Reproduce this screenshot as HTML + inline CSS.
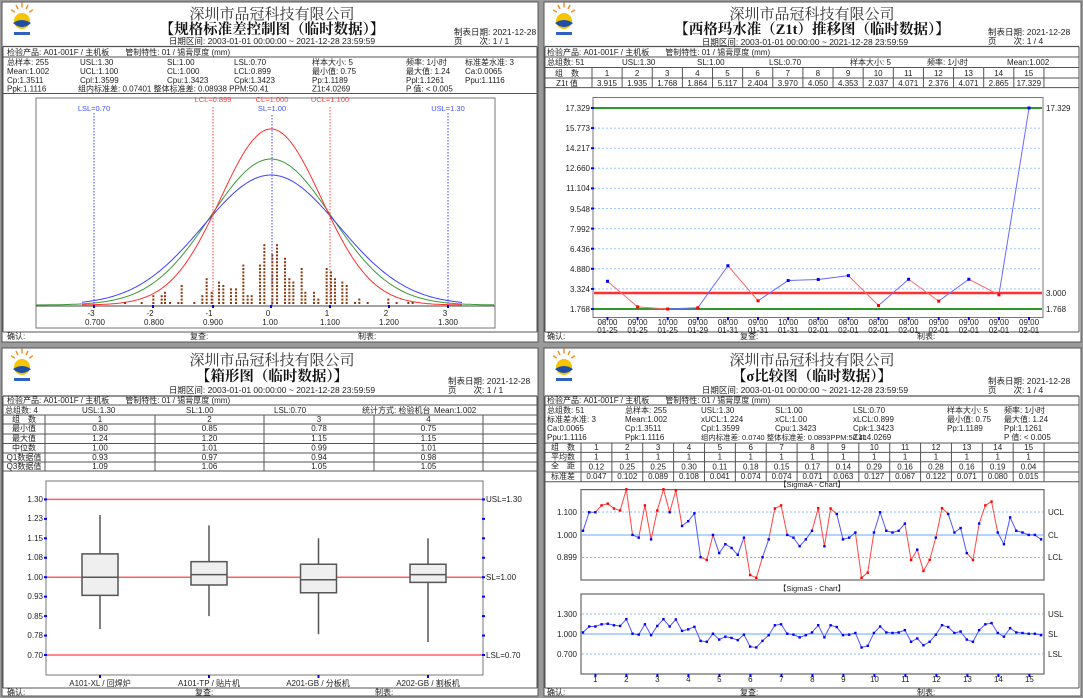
<!DOCTYPE html>
<html><head><meta charset="utf-8">
<style>
html,body{margin:0;padding:0;background:#fff}
svg{display:block}
text{font-family:"Liberation Sans","Noto Sans CJK SC",sans-serif;font-size:8px;fill:#222}
.co{font-family:"Liberation Serif","Noto Serif CJK SC",serif;font-size:15px;fill:#333}
.ti{font-family:"Liberation Serif","Noto Serif CJK SC",serif;font-size:14.5px;font-weight:bold;fill:#111}
.dt{font-size:8.5px}
.sm{font-size:7.5px}
.nx{font-size:7.4px}
.bl{fill:#4050ff}
.rd{fill:#ff4040}
</style></head><body>
<svg id="s" width="1083" height="698" viewBox="0 0 1083 698" xmlns="http://www.w3.org/2000/svg">
<rect width="1083" height="698" fill="#9a9a9a"/>
<rect x="2" y="2" width="536" height="340" fill="#fff" stroke="#555"/>
<rect x="544" y="2" width="537" height="340" fill="#fff" stroke="#555"/>
<rect x="2" y="348" width="536" height="348" fill="#fff" stroke="#555"/>
<rect x="544" y="348" width="537" height="348" fill="#fff" stroke="#555"/>
<g id="g"></g>

<!-- ============ TL ============ -->
<text class="co" x="272" y="19" text-anchor="middle">深圳市品冠科技有限公司</text>
<text class="ti" x="272" y="34" text-anchor="middle">【规格标准差控制图（临时数据）】</text>
<text class="dt" x="272" y="44" text-anchor="middle">日期区间: 2003-01-01 00:00:00 ~ 2021-12-28 23:59:59</text>
<text class="dt" x="454" y="35">制表日期: 2021-12-28</text>
<text class="dt" x="454" y="44">页　　次: 1 / 1</text>
<text x="7" y="55">检验产品: A01-001F / 主机板　　管制特性: 01 / 锡膏厚度 (mm)</text>
<text x="7" y="65">总样本: 255</text><text x="80" y="65">USL:1.30</text><text x="167" y="65">SL:1.00</text><text x="234" y="65">LSL:0.70</text><text x="312" y="65">样本大小: 5</text><text x="406" y="65">频率: 1小时</text><text x="465" y="65">标准差水准: 3</text>
<text x="7" y="74">Mean:1.002</text><text x="80" y="74">UCL:1.100</text><text x="167" y="74">CL:1.000</text><text x="234" y="74">LCL:0.899</text><text x="312" y="74">最小值: 0.75</text><text x="406" y="74">最大值: 1.24</text><text x="465" y="74">Ca:0.0065</text>
<text x="7" y="83">Cp:1.3511</text><text x="80" y="83">Cpl:1.3599</text><text x="167" y="83">Cpu:1.3423</text><text x="234" y="83">Cpk:1.3423</text><text x="312" y="83">Pp:1.1189</text><text x="406" y="83">Ppl:1.1261</text><text x="465" y="83">Ppu:1.1116</text>
<text x="7" y="91.5">Ppk:1.1116</text><text x="78" y="91.5">组内标准差: 0.07401 整体标准差: 0.08938 PPM:50.41</text><text x="312" y="91.5">Z1t:4.0269</text><text x="406" y="91.5">P 值: &lt; 0.005</text>
<text class="sm bl" x="94" y="111" text-anchor="middle">LSL=0.70</text>
<text class="sm bl" x="448" y="111" text-anchor="middle">USL=1.30</text>
<text class="sm rd" x="213" y="102" text-anchor="middle">LCL=0.899</text>
<text class="sm rd" x="272" y="102" text-anchor="middle">CL=1.000</text>
<text class="sm rd" x="330" y="102" text-anchor="middle">UCL=1.100</text>
<text class="sm bl" x="272" y="111" text-anchor="middle">SL=1.00</text>
<text x="91" y="316" text-anchor="middle">-3</text><text x="150" y="316" text-anchor="middle">-2</text><text x="209" y="316" text-anchor="middle">-1</text><text x="268" y="316" text-anchor="middle">0</text><text x="327" y="316" text-anchor="middle">1</text><text x="386" y="316" text-anchor="middle">2</text><text x="445" y="316" text-anchor="middle">3</text>
<text x="95" y="325" text-anchor="middle">0.700</text><text x="154" y="325" text-anchor="middle">0.800</text><text x="213" y="325" text-anchor="middle">0.900</text><text x="270" y="325" text-anchor="middle">1.00</text><text x="330" y="325" text-anchor="middle">1.100</text><text x="389" y="325" text-anchor="middle">1.200</text><text x="448" y="325" text-anchor="middle">1.300</text>
<text x="7" y="339">确认:</text><text x="190" y="339">复查:</text><text x="358" y="339">制表:</text>

<!-- ============ TR ============ -->
<text class="co" x="812" y="19" text-anchor="middle">深圳市品冠科技有限公司</text>
<text class="ti" x="812" y="34" text-anchor="middle">【西格玛水准（Z1t）推移图（临时数据）】</text>
<text class="dt" x="805" y="45" text-anchor="middle">日期区间: 2003-01-01 00:00:00 ~ 2021-12-28 23:59:59</text>
<text class="dt" x="988" y="35">制表日期: 2021-12-28</text>
<text class="dt" x="988" y="44">页　　次: 1 / 4</text>
<text x="547" y="55">检验产品: A01-001F / 主机板　　管制特性: 01 / 锡膏厚度 (mm)</text>
<text x="547" y="65">总组数: 51</text><text x="622" y="65">USL:1.30</text><text x="697" y="65">SL:1.00</text><text x="769" y="65">LSL:0.70</text><text x="850" y="65">样本大小: 5</text><text x="927" y="65">频率: 1小时</text><text x="1007" y="65">Mean:1.002</text>
<text x="567" y="76" text-anchor="middle">组　数</text>
<text x="567" y="86" text-anchor="middle">Z1t 值</text>
<g id="trtab"></g>
<text x="590" y="111" text-anchor="end">17.329</text><text x="590" y="131" text-anchor="end">15.773</text><text x="590" y="151" text-anchor="end">14.217</text><text x="590" y="171" text-anchor="end">12.660</text><text x="590" y="191" text-anchor="end">11.104</text><text x="590" y="212" text-anchor="end">9.548</text><text x="590" y="232" text-anchor="end">7.992</text><text x="590" y="252" text-anchor="end">6.436</text><text x="590" y="272" text-anchor="end">4.880</text><text x="590" y="292" text-anchor="end">3.324</text><text x="590" y="312" text-anchor="end">1.768</text>
<text x="1046" y="111">17.329</text><text x="1046" y="296">3.000</text><text x="1046" y="312">1.768</text>
<g id="trx"></g>
<text x="547" y="339">确认:</text><text x="740" y="339">复查:</text><text x="917" y="339">制表:</text>

<!-- ============ BL ============ -->
<text class="co" x="272" y="365" text-anchor="middle">深圳市品冠科技有限公司</text>
<text class="ti" x="272" y="381" text-anchor="middle">【箱形图（临时数据）】</text>
<text class="dt" x="272" y="393" text-anchor="middle">日期区间: 2003-01-01 00:00:00 ~ 2021-12-28 23:59:59</text>
<text class="dt" x="448" y="384">制表日期: 2021-12-28</text>
<text class="dt" x="448" y="393">页　　次: 1 / 1</text>
<text x="7" y="403">检验产品: A01-001F / 主机板　　管制特性: 01 / 锡膏厚度 (mm)</text>
<text x="5" y="413">总组数: 4</text><text x="82" y="413">USL:1.30</text><text x="186" y="413">SL:1.00</text><text x="274" y="413">LSL:0.70</text><text x="362" y="413">统计方式: 检验机台</text><text x="434" y="413">Mean:1.002</text>
<g id="bltab"></g>
<text x="43" y="502" text-anchor="end">1.30</text><text x="43" y="521" text-anchor="end">1.23</text><text x="43" y="541" text-anchor="end">1.15</text><text x="43" y="560" text-anchor="end">1.08</text><text x="43" y="580" text-anchor="end">1.00</text><text x="43" y="599" text-anchor="end">0.93</text><text x="43" y="619" text-anchor="end">0.85</text><text x="43" y="638" text-anchor="end">0.78</text><text x="43" y="658" text-anchor="end">0.70</text>
<text x="486" y="502">USL=1.30</text><text x="486" y="580">SL=1.00</text><text x="486" y="658">LSL=0.70</text>
<text x="100" y="686" text-anchor="middle">A101-XL / 回焊炉</text><text x="209" y="686" text-anchor="middle">A101-TP / 贴片机</text><text x="318" y="686" text-anchor="middle">A201-GB / 分板机</text><text x="428" y="686" text-anchor="middle">A202-GB / 割板机</text>
<text x="7" y="695">确认:</text><text x="195" y="695">复查:</text><text x="375" y="695">制表:</text>

<!-- ============ BR ============ -->
<text class="co" x="812" y="365" text-anchor="middle">深圳市品冠科技有限公司</text>
<text class="ti" x="812" y="381" text-anchor="middle">【σ比较图（临时数据）】</text>
<text class="dt" x="805" y="393" text-anchor="middle">日期区间: 2003-01-01 00:00:00 ~ 2021-12-28 23:59:59</text>
<text class="dt" x="988" y="384">制表日期: 2021-12-28</text>
<text class="dt" x="988" y="393">页　　次: 1 / 4</text>
<text x="547" y="403">检验产品: A01-001F / 主机板　　管制特性: 01 / 锡膏厚度 (mm)</text>
<text x="547" y="413">总组数: 51</text><text x="625" y="413">总样本: 255</text><text x="701" y="413">USL:1.30</text><text x="775" y="413">SL:1.00</text><text x="853" y="413">LSL:0.70</text><text x="947" y="413">样本大小: 5</text><text x="1004" y="413">频率: 1小时</text>
<text x="547" y="422">标准差水准: 3</text><text x="625" y="422">Mean:1.002</text><text x="701" y="422">xUCL:1.224</text><text x="775" y="422">xCL:1.00</text><text x="853" y="422">xLCL:0.899</text><text x="947" y="422">最小值: 0.75</text><text x="1004" y="422">最大值: 1.24</text>
<text x="547" y="431">Ca:0.0065</text><text x="625" y="431">Cp:1.3511</text><text x="701" y="431">Cpl:1.3599</text><text x="775" y="431">Cpu:1.3423</text><text x="853" y="431">Cpk:1.3423</text><text x="947" y="431">Pp:1.1189</text><text x="1004" y="431">Ppl:1.1261</text>
<text x="547" y="440">Ppu:1.1116</text><text x="625" y="440">Ppk:1.1116</text><text class="nx" x="701" y="440">组内标准差: 0.0740 整体标准差: 0.0893PPM:50.41</text><text x="853" y="440">Z1t:4.0269</text><text x="1004" y="440">P 值: &lt; 0.005</text>
<g id="brtab"></g>
<text class="sm" x="812" y="487" text-anchor="middle">【SigmaA - Chart】</text>
<text class="sm" x="812" y="591" text-anchor="middle">【SigmaS - Chart】</text>
<text x="577" y="515" text-anchor="end">1.100</text><text x="577" y="538" text-anchor="end">1.000</text><text x="577" y="560" text-anchor="end">0.899</text>
<text x="1048" y="515">UCL</text><text x="1048" y="538">CL</text><text x="1048" y="560">LCL</text>
<text x="577" y="617" text-anchor="end">1.300</text><text x="577" y="637" text-anchor="end">1.000</text><text x="577" y="657" text-anchor="end">0.700</text>
<text x="1048" y="617">USL</text><text x="1048" y="637">SL</text><text x="1048" y="657">LSL</text>
<g id="brx"></g>
<text x="547" y="695">确认:</text><text x="740" y="695">复查:</text><text x="917" y="695">制表:</text>
</svg>
<script>
(function(){
var NS="http://www.w3.org/2000/svg",G=document.getElementById("g");
function el(t,a,p){var e=document.createElementNS(NS,t);for(var k in a)e.setAttribute(k,a[k]);(p||G).appendChild(e);return e;}
function ln(x1,y1,x2,y2,c,w,d){var a={x1:x1,y1:y1,x2:x2,y2:y2,stroke:c,"stroke-width":w||1};if(d)a["stroke-dasharray"]=d;return el("line",a);}
function tx(x,y,s,p,anc){var e=el("text",{x:x,y:y,"text-anchor":anc||"middle"},p);e.textContent=s;}
function logo(x,y){
 var rays=[[-9,-6],[-5,-10],[0,-12],[5,-10],[9,-6]];
 rays.forEach(function(r){ln(x+12+r[0]*0.8,y+12+r[1]*0.8,x+12+r[0]*1.2,y+12+r[1]*1.2,"#f39020",1.5);});
 el("circle",{cx:x+12,cy:y+16,r:8,fill:"#f6c400"});
 el("path",{d:"M"+(x+3)+" "+(y+18)+" q9 -6 18 0 q-9 8 -18 0z",fill:"#1d4fa8"});
 el("rect",{x:x+4,y:y+27,width:16,height:3,fill:"#3060c0"});
}
logo(10,5);logo(552,5);logo(10,351);logo(552,351);
[[0,0],[542,0]].forEach(function(o){var X=o[0];
 ln(X+3,46.5,X+537,46.5,"#555",1.2);ln(X+3,57,X+537,57,"#555",1);
 ln(X+3,332,X+537,332,"#555",1);ln(X+3,46.5,X+3,332,"#555",1);ln(X+537,46.5,X+537,332,"#555",1);
});
ln(3,93.5,537,93.5,"#555",1);
ln(3,396,537,396,"#555",1.2);ln(3,405,537,405,"#555",1);ln(3,688,537,688,"#555",1);ln(3,396,3,688,"#555",1);ln(537,396,537,688,"#555",1);
ln(545,396,1079,396,"#555",1.2);ln(545,405,1079,405,"#555",1);ln(545,688,1079,688,"#555",1);ln(545,396,545,688,"#555",1);ln(1079,396,1079,688,"#555",1);
// ===== TL chart
el("rect",{x:36,y:98,width:459,height:230,fill:"none",stroke:"#777"});
var B=305,C=271;
ln(36,306,495,306,"#444",1);
function curve(sig,h,x0,x1,c){var p=[];for(var x=x0;x<=x1;x+=2){var z=(x-C)/sig;p.push(x+","+(B-h*Math.exp(-z*z/2)).toFixed(1));}el("polyline",{points:p.join(" "),fill:"none",stroke:c,"stroke-width":1});}
curve(60.5,146,36,495,"#3a9a3a");curve(68,130,82,462,"#4040ff");curve(50.3,176,82,462,"#ff3030");
[[94,110,"#4040ff"],[448,110,"#4040ff"],[272,112,"#4040ff"],[213,104,"#ff4040"],[330,104,"#ff4040"]].forEach(function(v){ln(v[0],v[1]+3,v[0],306,v[2],1,"1.5,1.5");});
[94,153,213,271,330,389,448].forEach(function(x){el("rect",{x:x-1,y:305,width:2,height:3,fill:"#00f"});});
var H=[[285,1],[335,1],[370,3],[395,3],[405,4],[420,1],[445,1],[455,6],[493,1],[517,3],[530,8],[545,4],[567,7],[580,6],[603,5],[618,5],[640,12],[653,3],[665,3],[690,12],[703,18],[727,15],[741,18],[765,14],[778,8],[790,7],[815,11],[826,4],[852,4],[865,2],[890,11],[903,10],[915,8],[937,7],[950,6],[975,1],[988,2],[1013,1],[1075,2],[1100,1],[1135,1],[1148,1]];
H.forEach(function(h){var x=30+h[0]/3;for(var i=0;i<h[1];i++)el("rect",{x:x-1,y:302-i*3.4,width:2,height:2,fill:"#8b3a0f"});});
// ===== TR table
var TT=document.getElementById("trtab");
ln(545,67.5,1079,67.5,"#555",1);ln(545,78,1079,78,"#555",1);ln(545,87.6,1079,87.6,"#555",1);
var zv=["3.915","1.935","1.768","1.864","5.117","2.404","3.970","4.050","4.353","2.037","4.071","2.376","4.071","2.865","17.329"];
ln(592,67.5,592,87.6,"#555",1);
for(var i=0;i<15;i++){var x0=592+i*30.13;ln(x0+30.13,67.5,x0+30.13,87.6,"#555",1);tx(x0+15,76,String(i+1),TT);tx(x0+15,86,zv[i],TT);}
el("rect",{x:593,y:97.5,width:450,height:220,fill:"none",stroke:"#777"});
for(var i=1;i<10;i++){var y=108+i*20.1;ln(594,y,1042,y,"#99c8ff",1,"2,2");}
for(var i=0;i<11;i++){el("rect",{x:591,y:107+i*20.1,width:3,height:2,fill:"#00f"});}
ln(594,108,1042,108,"#2a9a2a",2);ln(594,309,1042,309,"#2a9a2a",2);ln(594,293,1042,293,"#ff3030",2.5);
var TX=document.getElementById("trx");
var dl=["01-25","01-25","01-25","01-29","01-31","01-31","01-31","02-01","02-01","02-01","02-01","02-01","02-01","02-01","02-01"],tl=["08:00","09:00","10:00","09:00","08:00","09:00","10:00","08:00","08:00","08:00","08:00","09:00","09:00","09:00","09:00"];
var pts=[];
for(var i=0;i<15;i++){var x=607.5+i*30.11,v=parseFloat(zv[i]);var y=309-(v-1.768)/1.556*20.1;pts.push([x,y]);tx(x,325,tl[i],TX);tx(x,333,dl[i],TX);el("rect",{x:x-1,y:317,width:2,height:3,fill:"#00f"});}
for(var i=0;i<14;i++){var a=pts[i],b=pts[i+1];ln(a[0],a[1],b[0],b[1],b[1]<a[1]?"#6a6aff":"#ff6a6a",1);}
pts.forEach(function(p,i){el("rect",{x:p[0]-1.5,y:p[1]-1.5,width:3,height:3,fill:parseFloat(zv[i])>3?"#00f":"#f00"});});
// ===== BL table
var BT=document.getElementById("bltab");
var rb=[415,424,434,443.5,453,462,471];rb.forEach(function(y){ln(3,y,537,y,"#555",1);});
[45,155,264,374,483].forEach(function(x){ln(x,415,x,471,"#555",1);});
var rl=["组　数","最小值","最大值","中位数","Q1数据值","Q3数据值"];
var bd=[["1","2","3","4"],["0.80","0.85","0.78","0.75"],["1.24","1.20","1.15","1.15"],["1.00","1.01","0.99","1.01"],["0.93","0.97","0.94","0.98"],["1.09","1.06","1.05","1.05"]];
var cc=[100,209.5,319,428.5];
for(var r=0;r<6;r++){var y=rb[r]+7;tx(24,y,rl[r],BT);for(var c=0;c<4;c++)tx(cc[c],y,bd[r][c],BT);}
el("rect",{x:46,y:481,width:437,height:194,fill:"none",stroke:"#777"});
function yv(v){return 655-(v-0.7)*259.3;}
[1.3,1.0,0.7].forEach(function(v){ln(47,yv(v),482,yv(v),"#ff6060",1.5);});
for(var i=0;i<9;i++){var y=yv(1.3-i*0.075);el("rect",{x:44,y:y-1,width:3,height:2,fill:"#00f"});el("rect",{x:482,y:y-1,width:3,height:2,fill:"#00f"});}
var bx=[[0.80,1.24,1.00,0.93,1.09],[0.85,1.20,1.01,0.97,1.06],[0.78,1.15,0.99,0.94,1.05],[0.75,1.15,1.01,0.98,1.05]];
[100,209,318.5,428].forEach(function(x,i){var d=bx[i];
 ln(x,yv(d[0]),x,yv(d[1]),"#555",1.5);
 el("rect",{x:x-18,y:yv(d[4]),width:36,height:yv(d[3])-yv(d[4]),fill:"#efefef",stroke:"#555","stroke-width":1.5});
 ln(x-18,yv(d[2]),x+18,yv(d[2]),"#555",1.5);
 el("rect",{x:x-1,y:675,width:2,height:3,fill:"#00f"});});
// ===== BR table
var RT=document.getElementById("brtab");
var br=[443,452.4,461.7,472,481.8];br.forEach(function(y){ln(545,y,1079,y,"#555",1);});
ln(581,443,581,481.8,"#555",1);
var mr=["0.12","0.25","0.25","0.30","0.11","0.18","0.15","0.17","0.14","0.29","0.16","0.28","0.16","0.19","0.04"];
var sd=["0.047","0.102","0.089","0.108","0.041","0.074","0.074","0.071","0.063","0.127","0.067","0.122","0.071","0.080","0.015"];
var rl2=["组　数","平均数","全　距","标准差"];
for(var r=0;r<4;r++)tx(563,br[r]+7,rl2[r],RT);
for(var i=0;i<15;i++){var x0=581+i*30.87;ln(x0+30.87,443,x0+30.87,481.8,"#555",1);var xc=x0+15.4;tx(xc,450,String(i+1),RT);tx(xc,459.5,"1",RT);tx(xc,469.5,mr[i],RT);tx(xc,479,sd[i],RT);}
el("rect",{x:581,y:489.6,width:463,height:90.4,fill:"none",stroke:"#666","stroke-width":1.2});
el("rect",{x:581,y:594,width:463,height:80,fill:"none",stroke:"#666","stroke-width":1.2});
ln(582,512,1043,512,"#88bbff",1,"2,2");ln(582,535,1043,535,"#88bbff",1.2);ln(582,557.5,1043,557.5,"#88bbff",1,"2,2");
ln(582,614,1043,614,"#88bbff",1,"2,2");ln(582,634,1043,634,"#88bbff",1.2);ln(582,654,1043,654,"#88bbff",1,"2,2");
var A=[148,94,94,74,69,83,89,27,160,168,74,173,89,27,94,30,134,120,97,225,233,160,213,187,198,218,168,277,285,225,173,83,74,160,168,193,173,148,82,193,83,99,173,168,153,285,270,153,94,148,153,148,127,233,203,265,233,168,82,99,153,140,213,233,127,74,63,153,187,109,148,153,160,160,173];
var XR=document.getElementById("brx");
for(var k=1;k<=15;k++){var x=595.4+(k-1)*31;tx(x,682,String(k),XR);el("rect",{x:x-1,y:674,width:2,height:3,fill:"#00f"});}
var pa=[],ps=[];
A.forEach(function(a,i){var x=583+i*6.19;pa.push([x,480+a/2.914,a<94||a>226]);ps.push([x,480+(448+(a-160)*0.32)/2.914]);});
for(var i=0;i<pa.length-1;i++){var p=pa[i],q=pa[i+1];ln(p[0],p[1],q[0],q[1],(p[2]||q[2])?"#ff4545":"#5555ff",1);ln(ps[i][0],ps[i][1],ps[i+1][0],ps[i+1][1],"#5555ff",1);}
pa.forEach(function(p,i){el("rect",{x:p[0]-1.2,y:p[1]-1.2,width:2.4,height:2.4,fill:p[2]?"#f00":"#00f"});el("rect",{x:ps[i][0]-1.2,y:ps[i][1]-1.2,width:2.4,height:2.4,fill:"#00f"});});
})();
</script>
</body></html>
